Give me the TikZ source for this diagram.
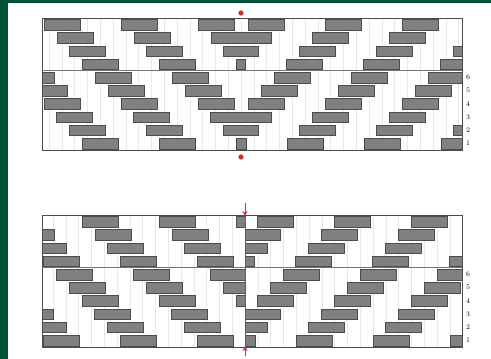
\documentclass[tikz,border=0pt]{standalone}
\usepackage{tikz}
\usetikzlibrary{arrows.meta}
\definecolor{cFrame}{RGB}{0,82,56}
\definecolor{cBrick}{RGB}{128,128,128}
\definecolor{cAxis}{RGB}{210,45,45}
\definecolor{cRule}{RGB}{105,125,100}
\tikzset{
  brick/.style={fill=cBrick, draw=black!70, line width=0.6pt},
  gridline/.style={black!9, line width=0.4pt},
  panel/.style={draw=black!70, line width=0.9pt},
  rowlabel/.style={font=\scriptsize, inner sep=0pt}
}

\begin{document}
\begin{tikzpicture}[x=1pt,y=-1pt]
  \useasboundingbox (0,0) rectangle (491,359);
  \fill[white] (0,0) rectangle (491,359);
  % dark frame
  \fill[cFrame] (0,0) rectangle (8,359);
  \fill[cFrame] (0,0) rectangle (491,2.5);

  % ---------- top panel: mirrored courses ----------
  \begin{scope}
    \clip (42,18) rectangle (462,150);
    \foreach \i in {-16,...,17}
      \draw[gridline] ({241+12.8*\i},18) -- ++(0,132);
  \end{scope}
  % right half
  \begin{scope}
    \clip (241,18) rectangle (462,150);
    \foreach \r in {0,...,9}
      \foreach \k in {-1,...,4}
        \filldraw[brick] ({248-12.8*\r+77*\k},{18+13.2*\r+1.5}) rectangle ++(36,10.5);
  \end{scope}
  % left half
  \begin{scope}
    \clip (42,18) rectangle (241,150);
    \foreach \r in {0,...,9}
      \foreach \k in {-1,...,4}
        \filldraw[brick] ({198+12.8*\r-77*\k},{18+13.2*\r+1.5}) rectangle ++(36,10.5);
  \end{scope}
  \draw[panel] (42,18) rectangle (462,150);
  \draw[cRule, line width=0.9pt] (42,70.8) -- (462,70.8);
  \foreach \n [count=\c] in {6,5,4,3,2,1}
    \node[rowlabel] (ta\n) at (468,{70.8+13.2*(\c-0.5)}) {\n};
  % axis marks
  \fill[cAxis] (241,13) circle (2.6);
  \fill[cAxis] (241,157) circle (2.6);

  % ---------- bottom panel: offset courses ----------
  \begin{scope}
    \clip (42,215) rectangle (462,347);
    \foreach \i in {-16,...,17}
      \draw[gridline] ({245+12.8*\i},215) -- ++(0,132);
  \end{scope}
  % right half
  \begin{scope}
    \clip (245,215) rectangle (462,347);
    \foreach \r in {0,...,9}
      \foreach \k in {-1,...,4}
        \filldraw[brick] ({257-12.8*\r+77*\k},{215+13.2*\r+1.5}) rectangle ++(36,10.5);
  \end{scope}
  % left half
  \begin{scope}
    \clip (42,215) rectangle (245,347);
    \foreach \r in {0,...,9}
      \foreach \k in {-1,...,3}
        \filldraw[brick] ({82+12.8*\r+77*\k-77},{215+13.2*\r+1.5}) rectangle ++(36,10.5);
  \end{scope}
  \draw[panel] (42,215) rectangle (462,347);
  \draw[cRule, line width=0.9pt] (42,267.8) -- (462,267.8);
  \foreach \n [count=\c] in {6,5,4,3,2,1}
    \node[rowlabel] (tb\n) at (468,{267.8+13.2*(\c-0.5)}) {\n};
  % axis line
  \draw[cAxis, line width=0.8pt] (245,203) -- (245,356);
  \draw[cAxis, line width=0.8pt, -{Stealth[length=5pt,width=5pt]}] (245,204) -- (245,216);
  \draw[cAxis, line width=0.8pt, -{Stealth[length=5pt,width=5pt]}] (245,356) -- (245,346);
\end{tikzpicture}
\end{document}
